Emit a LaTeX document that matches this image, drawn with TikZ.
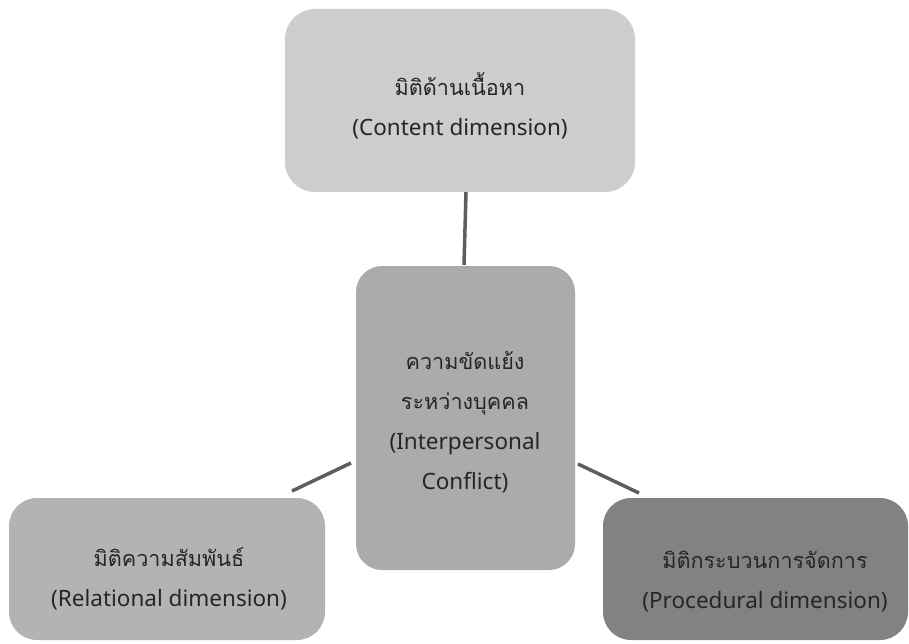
\documentclass[tikz,border=0pt]{standalone}
\usepackage{fontspec}
\setmainfont{Noto Sans}
\newfontfamily\thaifont[Script=Thai,Scale=0.96]{Loma}
\definecolor{topfill}{HTML}{CDCDCD}
\definecolor{midfill}{HTML}{ABABAB}
\definecolor{leftfill}{HTML}{B3B3B3}
\definecolor{rightfill}{HTML}{828282}
\definecolor{linkcol}{HTML}{5E5E5E}
\definecolor{txtcol}{HTML}{262626}
\tikzset{
  box/.style={rectangle, draw=none, inner sep=0pt},
  lbl/.style={align=center, text=txtcol, inner sep=0pt,
    font=\fontsize{22.5}{40}\selectfont},
  link/.style={draw=linkcol, line width=3.5pt}
}
\begin{document}
\begin{tikzpicture}[x=1pt,y=-1pt]
\useasboundingbox (0,0) rectangle (909,644);
% boxes
\node[box, fill=topfill, minimum width=350pt, minimum height=183pt, rounded corners=30pt] (top) at (460,100.5) {};
\node[box, fill=midfill, minimum width=219pt, minimum height=304pt, rounded corners=26pt] (mid) at (465.5,418) {};
\node[box, fill=leftfill, minimum width=316pt, minimum height=142pt, rounded corners=28pt] (left) at (167,569) {};
\node[box, fill=rightfill, minimum width=305pt, minimum height=142pt, rounded corners=28pt] (right) at (755.5,569) {};
% labels
\node[lbl] (toplbl) at (460,106) {{\thaifont มิติด้านเนื้อหา}\\(Content dimension)};
\node[lbl] (midlbl) at (465,422) {{\thaifont ความขัดแย้ง}\\{\thaifont ระหว่างบุคคล}\\(Interpersonal\\Conflict)};
\node[lbl] (leftlbl) at (169,579) {{\thaifont มิติความสัมพันธ์}\\(Relational dimension)};
\node[lbl] (rightlbl) at (765,582) {{\thaifont มิติกระบวนการจัดการ}\\(Procedural dimension)};
% connector ends
\coordinate (t1) at (466,192);
\coordinate (t2) at (464,265);
\coordinate (l1) at (292,491);
\coordinate (l2) at (351,463);
\coordinate (r1) at (578,464);
\coordinate (r2) at (639,493);
\draw[link] (t1) -- (t2);
\draw[link] (l1) -- (l2);
\draw[link] (r1) -- (r2);
\end{tikzpicture}
\end{document}
